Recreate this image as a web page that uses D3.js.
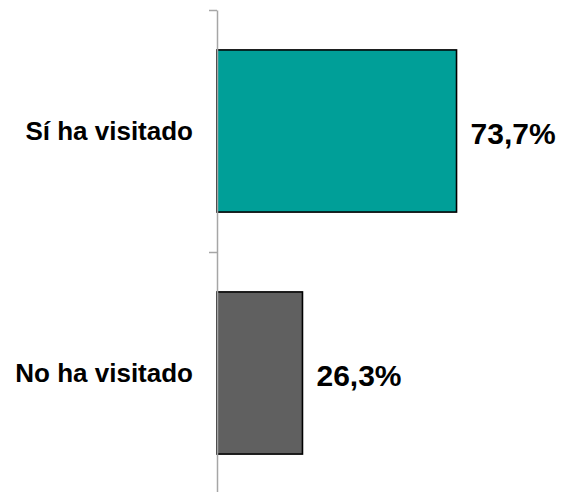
<!DOCTYPE html>
<html>
<head>
<meta charset="utf-8">
<script src="https://cdn.jsdelivr.net/npm/d3@7"></script>
<style>
  html, body { margin: 0; padding: 0; background: #fff; }
  svg { display: block; }
</style>
</head>
<body>
<svg id="chart" width="563" height="492"></svg>
<script>
const categories = ["Sí ha visitado", "No ha visitado"];
const values = [73.7, 26.3];
const valueLabels = ["73,7%", "26,3%"];
const colors = ["#009F98", "#606060"];

const svg = d3.select("#chart");
const axisX = 217;

const x = d3.scaleLinear().domain([0, 100]).range([axisX, 542]);
const y = d3.scaleBand().domain(categories).range([10, 494]).padding(0);
const yIdx = d3.scaleLinear().domain([0, categories.length]).range([10, 494]);

const barFrac = 0.67;
const bw = y.bandwidth() * barFrac;
const off = (y.bandwidth() - bw) / 2;

// bars
svg.selectAll("rect.bar")
  .data(values)
  .enter().append("rect")
  .attr("class", "bar")
  .attr("x", x(0))
  .attr("y", (d, i) => y(categories[i]) + off)
  .attr("width", d => x(d) - x(0))
  .attr("height", bw)
  .attr("fill", (d, i) => colors[i])
  .attr("stroke", "#000")
  .attr("stroke-width", 1.6);

// axis
const axis = d3.axisLeft(yIdx)
  .tickValues(d3.range(categories.length + 1))
  .tickFormat("")
  .tickSizeInner(8)
  .tickSizeOuter(0);
const g = svg.append("g")
  .attr("transform", `translate(${axisX},0)`)
  .call(axis);
g.selectAll("path, line").attr("stroke", "#A6A6A6").attr("stroke-width", 1.5);

// category labels
svg.selectAll("text.cat")
  .data(categories)
  .enter().append("text")
  .attr("class", "cat")
  .attr("x", 193)
  .attr("y", d => y(d) + y.bandwidth() / 2 + 9)
  .attr("text-anchor", "end")
  .attr("font-family", "Liberation Sans, Arial, sans-serif")
  .attr("font-weight", "bold")
  .attr("font-size", 26)
  .attr("fill", "#000")
  .text(d => d);

// value labels
svg.selectAll("text.val")
  .data(values)
  .enter().append("text")
  .attr("class", "val")
  .attr("x", d => x(d) + 14)
  .attr("y", (d, i) => y(categories[i]) + y.bandwidth() / 2 + 13)
  .attr("font-family", "Liberation Sans, Arial, sans-serif")
  .attr("font-weight", "bold")
  .attr("font-size", 30)
  .attr("fill", "#000")
  .text((d, i) => valueLabels[i]);
</script>
</body>
</html>
